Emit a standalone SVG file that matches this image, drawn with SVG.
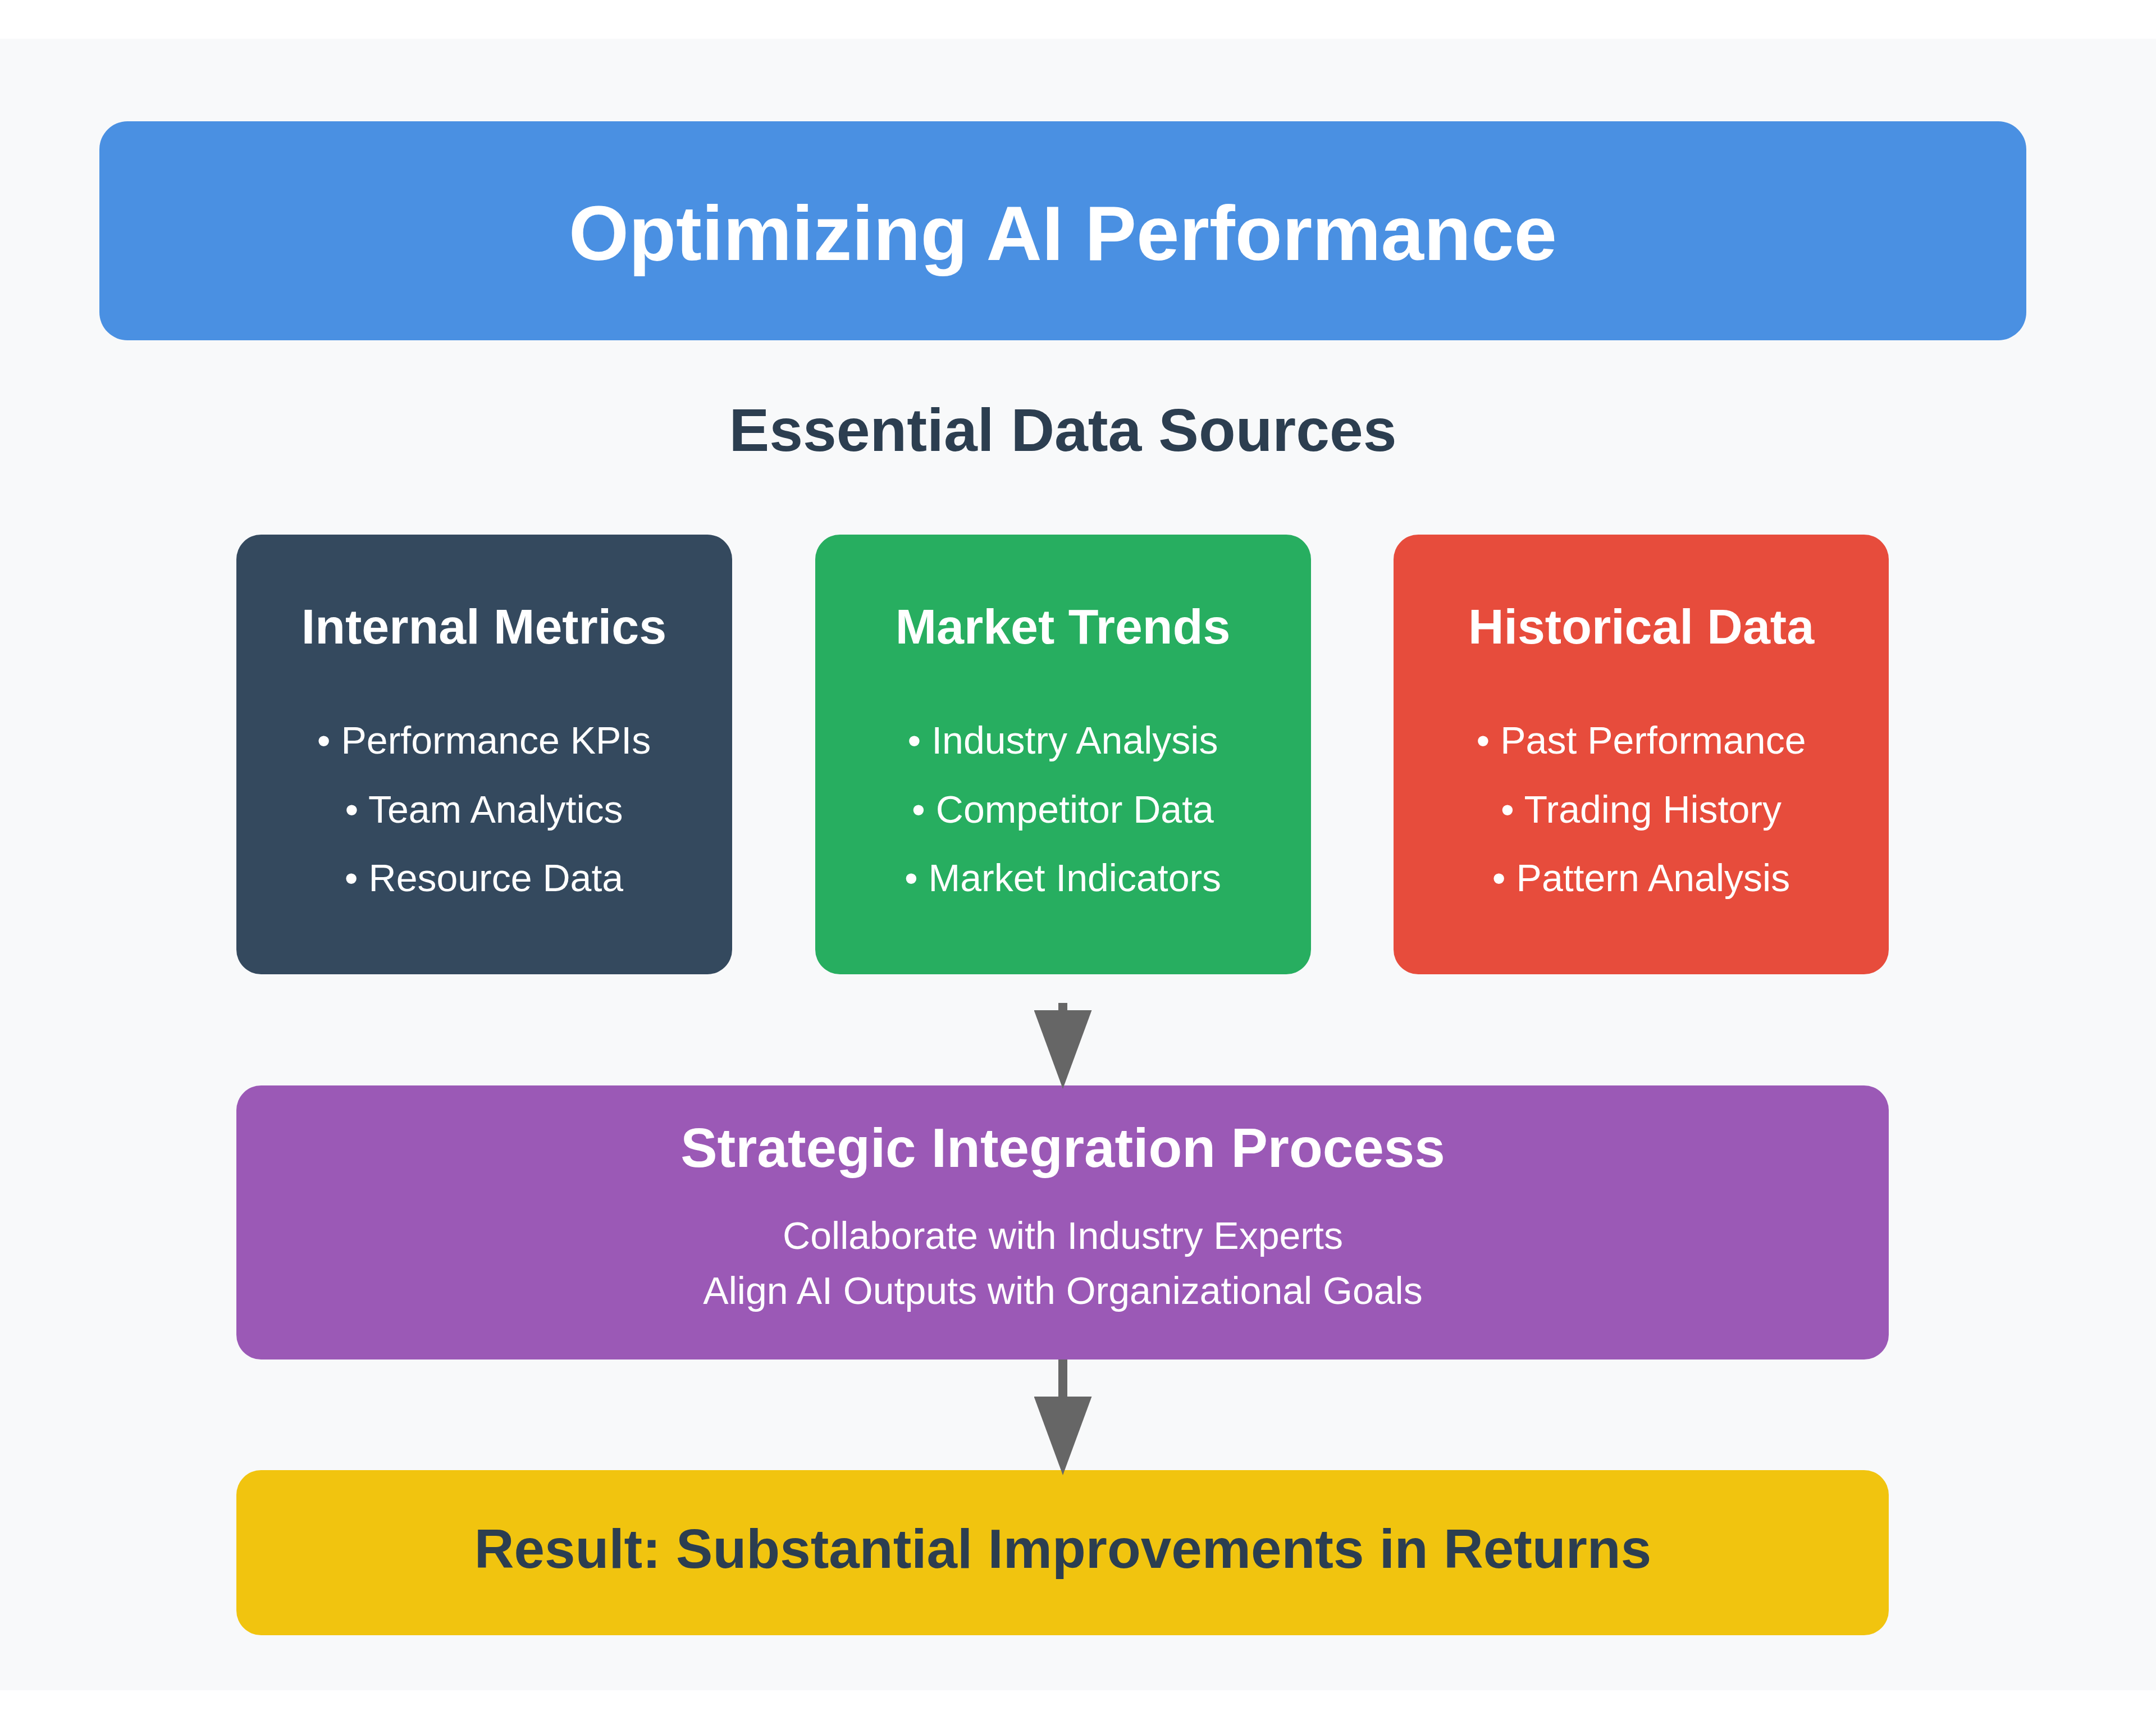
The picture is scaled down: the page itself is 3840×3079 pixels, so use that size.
<svg xmlns="http://www.w3.org/2000/svg" width="3840" height="3079" viewBox="0 0 3840 3079">
  <style>
    .t { font-family: "Liberation Sans", Arial, sans-serif; text-anchor: middle; }
    .b { font-weight: bold; }
    .white { fill: #ffffff; }
    .dark { fill: #2c3e50; }
    .h { font-size: 88px; }
    .li { font-size: 68px; }
    .conn { stroke: #666666; stroke-width: 16; fill: none; }
  </style>
  <defs>
    <marker id="arrow" markerUnits="userSpaceOnUse" markerWidth="140" markerHeight="103" refX="0" refY="51.5" orient="auto">
      <path d="M0,0 L140,51.5 L0,103 Z" fill="#666666"/>
    </marker>
  </defs>

  <rect x="0" y="0" width="3840" height="3079" fill="#ffffff"/>
  <rect id="background" x="0" y="69" width="3840" height="2941" fill="#f8f9fa"/>

  <g id="title">
    <rect x="177" y="216" width="3432" height="390" rx="50" ry="50" fill="#4a90e2"/>
    <text class="t b white" x="1893" y="463" font-size="137.5">Optimizing AI Performance</text>
  </g>

  <g id="subtitle">
    <text class="t b dark" x="1893" y="803" font-size="107.5">Essential Data Sources</text>
  </g>

  <g id="internal-metrics">
    <rect x="421" y="952" width="883" height="783" rx="44" ry="44" fill="#34495e"/>
    <text class="t b white h" x="862" y="1146">Internal Metrics</text>
    <text class="t white li" x="862" y="1342">• Performance KPIs</text>
    <text class="t white li" x="862" y="1465">• Team Analytics</text>
    <text class="t white li" x="862" y="1587">• Resource Data</text>
  </g>

  <g id="market-trends">
    <rect x="1452" y="952" width="883" height="783" rx="44" ry="44" fill="#27ae60"/>
    <text class="t b white h" x="1893" y="1146">Market Trends</text>
    <text class="t white li" x="1893" y="1342">• Industry Analysis</text>
    <text class="t white li" x="1893" y="1465">• Competitor Data</text>
    <text class="t white li" x="1893" y="1587">• Market Indicators</text>
  </g>

  <g id="historical-data">
    <rect x="2482" y="952" width="882" height="783" rx="44" ry="44" fill="#e74c3c"/>
    <text class="t b white h" x="2923" y="1146">Historical Data</text>
    <text class="t white li" x="2923" y="1342">• Past Performance</text>
    <text class="t white li" x="2923" y="1465">• Trading History</text>
    <text class="t white li" x="2923" y="1587">• Pattern Analysis</text>
  </g>

  <g id="integration">
    <rect x="421" y="1933" width="2943" height="488" rx="44" ry="44" fill="#9b59b6"/>
    <text class="t b white" x="1893" y="2078" font-size="98">Strategic Integration Process</text>
    <text class="t white li" x="1893" y="2224">Collaborate with Industry Experts</text>
    <text class="t white li" x="1893" y="2322">Align AI Outputs with Organizational Goals</text>
  </g>

  <g id="result">
    <rect x="421" y="2618" width="2943" height="294" rx="44" ry="44" fill="#f1c40f"/>
    <text class="t b dark" x="1893" y="2792" font-size="98">Result: Substantial Improvements in Returns</text>
  </g>

  <g id="connectors">
    <line class="conn" x1="1893" y1="1786" x2="1893" y2="1799" marker-end="url(#arrow)"/>
    <line class="conn" x1="1893" y1="2421" x2="1893" y2="2487" marker-end="url(#arrow)"/>
  </g>
</svg>
